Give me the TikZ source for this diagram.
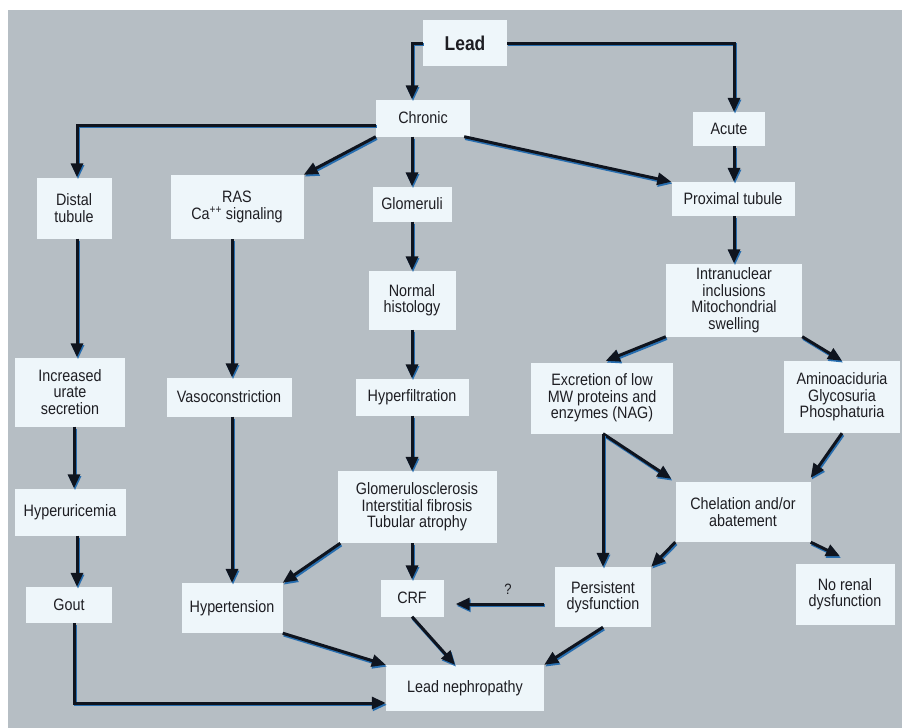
\documentclass[tikz,border=0pt]{standalone}
\usepackage{fontspec}
\setmainfont[FakeStretch=0.87]{Liberation Sans}
\usetikzlibrary{arrows.meta}
\definecolor{bgc}{RGB}{182,190,196}
\definecolor{boxc}{RGB}{238,246,250}
\definecolor{txtc}{RGB}{30,30,35}
\definecolor{arrc}{RGB}{15,20,30}
\definecolor{shc}{RGB}{40,110,175}
\begin{document}
\begin{tikzpicture}[x=1pt,y=-1pt,
  box/.style={fill=boxc, text=txtc, align=center, inner sep=0pt,
    font=\fontsize{16.5}{16.5}\selectfont},
  arr/.style={draw=arrc, line width=3pt, -{Triangle[length=14pt,width=12pt]},
    preaction={draw=shc, line width=3pt, transform canvas={shift={(1pt,-1.8pt)}}}}
]
\useasboundingbox (0,0) rectangle (902,728);
\fill[bgc] (8,10) rectangle (902,728);

% nodes
\node[box, minimum width=84pt, minimum height=46pt, font=\fontsize{20}{20}\selectfont\bfseries] (lead) at (465,43) {Lead};
\node[box, minimum width=94pt, minimum height=37pt] (chronic) at (423,118) {Chronic};
\node[box, minimum width=72pt, minimum height=34pt] (acute) at (729,129) {Acute};
\node[box, minimum width=123pt, minimum height=34pt] (prox) at (733,199) {Proximal tubule};
\node[box, minimum width=75pt, minimum height=61pt] (distal) at (74,208) {Distal\\tubule};
\node[box, minimum width=133pt, minimum height=64pt] (ras) at (237,207) {RAS\\Ca\smash{\textsuperscript{++}} signaling};
\node[box, minimum width=79pt, minimum height=35pt] (glom) at (412,204) {Glomeruli};
\node[box, minimum width=87pt, minimum height=59pt] (normal) at (412,300) {Normal\\histology};
\node[box, minimum width=113pt, minimum height=37pt] (hyperf) at (412,397) {Hyperfiltration};
\node[box, minimum width=159pt, minimum height=72pt] (glomsc) at (417,507) {Glomerulosclerosis\\Interstitial fibrosis\\Tubular atrophy};
\node[box, minimum width=63pt, minimum height=37pt] (crf) at (412,598) {CRF};
\node[box, minimum width=101pt, minimum height=50pt] (hypert) at (232,608) {Hypertension};
\node[box, minimum width=125pt, minimum height=39pt] (vaso) at (229,397) {Vasoconstriction};
\node[box, minimum width=110pt, minimum height=69pt] (incr) at (70,392) {Increased\\urate\\secretion};
\node[box, minimum width=111pt, minimum height=47pt] (hyperu) at (70,512) {Hyperuricemia};
\node[box, minimum width=86pt, minimum height=36pt] (gout) at (69,605) {Gout};
\node[box, minimum width=158pt, minimum height=46pt] (leadneph) at (465,688) {Lead nephropathy};
\node[box, minimum width=96pt, minimum height=60pt] (persist) at (603,597) {Persistent\\dysfunction};
\node[box, minimum width=135pt, minimum height=60pt] (chel) at (743,512) {Chelation and/or\\abatement};
\node[box, minimum width=99pt, minimum height=61pt] (norenal) at (845,594) {No renal\\dysfunction};
\node[box, minimum width=136pt, minimum height=73pt] (intra) at (734,300) {Intranuclear\\inclusions\\Mitochondrial\\swelling};
\node[box, minimum width=142pt, minimum height=71pt] (excr) at (602,398) {Excretion of low\\MW proteins and\\enzymes (NAG)};
\node[box, minimum width=116pt, minimum height=72pt] (amino) at (842,397) {Aminoaciduria\\Glycosuria\\Phosphaturia};
\node[text=txtc, font=\fontsize{15}{15}\selectfont] (q) at (508,589) {?};

% connectors
\draw[arr] (lead.west) -| (glom.north |- chronic.north);
\draw[arr] (lead.east) -| (intra.north |- acute.north);
\draw[arr] (intra.north |- acute.south) -- (intra.north |- prox.north);
\draw[arr] (prox.south -| intra.north) -- (intra.north);
\draw[arr] ([xshift=-6pt]chronic.south east) -- (prox.north west);
\draw[arr] ([yshift=-7pt]chronic.west) -| ([xshift=3pt]distal.north);
\draw[arr] (chronic.south west) -- (ras.north east);
\draw[arr] (glom.north |- chronic.south) -- (glom.north);
\draw[arr] (glom.south) -- (normal.north);
\draw[arr] (normal.south) -- (hyperf.north);
\draw[arr] (hyperf.south) -- (hyperf.south |- glomsc.north);
\draw[arr] (crf.north |- glomsc.south) -- (crf.north);
\draw[arr] ([xshift=3pt]glomsc.south west) -- (hypert.north east);
\draw[arr] (hypert.north |- ras.south) -- (hypert.north |- vaso.north);
\draw[arr] (hypert.north |- vaso.south) -- (hypert.north);
\draw[arr] ([xshift=3pt]distal.south) -- ([xshift=3pt]distal.south |- incr.north);
\draw[arr] (incr.south -| distal.south) -- (distal.south |- hyperu.north);
\draw[arr] ([xshift=3pt]distal.south |- hyperu.south) -- ([xshift=3pt]distal.south |- gout.north);
\draw[arr] ([xshift=5pt]gout.south) |- ([yshift=-15pt]leadneph.west);
\draw[arr] (hypert.south east) -- (leadneph.north west);
\draw[arr] (crf.south) -- ([xshift=-10pt]leadneph.north);
\draw[arr] (persist.south) -- (leadneph.north east);
\draw[arr, shorten <=11pt, shorten >=12pt] ([yshift=-7pt]persist.west) -- ([yshift=-7pt]persist.west -| crf.east);
\draw[arr] (chel.south west) -- (persist.north east);
\draw[arr] (chel.south east) -- ([xshift=-5pt,yshift=7pt]norenal.north);
\draw[arr, shorten >=4pt] (intra.south west) -- (excr.north);
\draw[arr] (intra.south east) -- (amino.north);
\draw[arr] (persist.north |- excr.south) -- ([xshift=-4pt,yshift=3pt]chel.north west);
\draw[arr] (persist.north |- excr.south) -- (persist.north);
\draw[arr] (amino.south) -- ([yshift=4pt]chel.north east);
\end{tikzpicture}
\end{document}
